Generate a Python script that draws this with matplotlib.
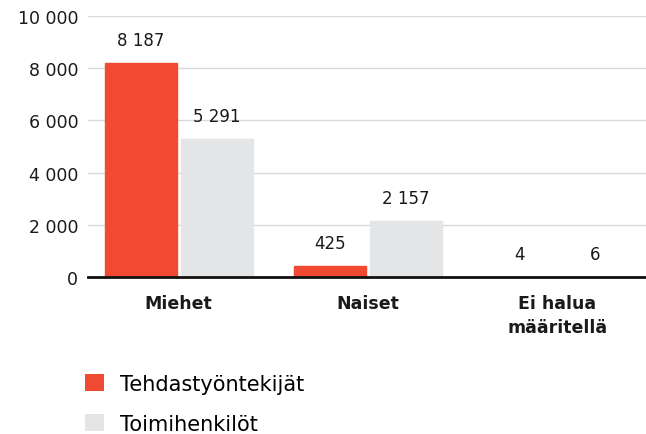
import matplotlib

matplotlib.use("Agg")
import numpy as np
from matplotlib import pyplot as plt
from matplotlib.patches import Patch

categories = ["Miehet", "Naiset", "Ei halua\nmääritellä"]
series_names = ["Tehdastyöntekijät", "Toimihenkilöt"]
factory_workers = [8187, 425, 4]
clerical_staff = [5291, 2157, 6]
y_ticks = [0, 2000, 4000, 6000, 8000, 10000]

RED = "#f04a32"
GREY = "#e4e5e7"
INK = "#1a1a1a"


def fmt(value: float) -> str:
    return f"{int(value):,}".replace(",", " ")


fig = plt.figure(figsize=(6.46, 4.35), dpi=100)
ax = fig.add_axes([0.136, 0.361, 0.864, 0.6])

x = np.arange(len(categories))
width = 0.38
offsets = (-0.201, 0.201)
for values, color, off in zip((factory_workers, clerical_staff), (RED, GREY), offsets):
    bars = ax.bar(x + off, values, width, color=color, edgecolor=color, linewidth=1.0, zorder=3)
    for bar, value in zip(bars, values):
        ax.annotate(
            fmt(value),
            (bar.get_x() + bar.get_width() / 2, bar.get_height()),
            xytext=(0, 10),
            textcoords="offset points",
            ha="center",
            va="bottom",
            fontsize=12,
            color=INK,
        )

ax.set_xlim(-0.48, 2.47)
ax.set_ylim(0, 10000)
ax.set_yticks(y_ticks)
ax.set_yticklabels([fmt(v) for v in y_ticks], fontsize=12.5, color=INK)
ax.set_xticks(x)
ax.set_xticklabels(categories, fontsize=12.5, fontweight="bold", color=INK, linespacing=1.45)
ax.tick_params(axis="both", length=0)
ax.tick_params(axis="y", pad=7)
ax.tick_params(axis="x", pad=12)
ax.grid(axis="y", color="#d9d9d9", linewidth=1, zorder=0)
for side in ("top", "right", "left"):
    ax.spines[side].set_visible(False)
ax.spines["bottom"].set_linewidth(2)
ax.spines["bottom"].set_color("#111111")
ax.spines["bottom"].set_zorder(4)

handles = [Patch(facecolor=RED), Patch(facecolor=GREY)]
fig.legend(
    handles,
    series_names,
    loc="lower left",
    bbox_to_anchor=(0.103, -0.042),
    frameon=False,
    prop={"family": "DejaVu Sans", "size": 15},
    handlelength=0.9,
    handleheight=0.9,
    handletextpad=0.75,
    labelspacing=0.95,
)

fig.savefig("out.png", dpi=100)
